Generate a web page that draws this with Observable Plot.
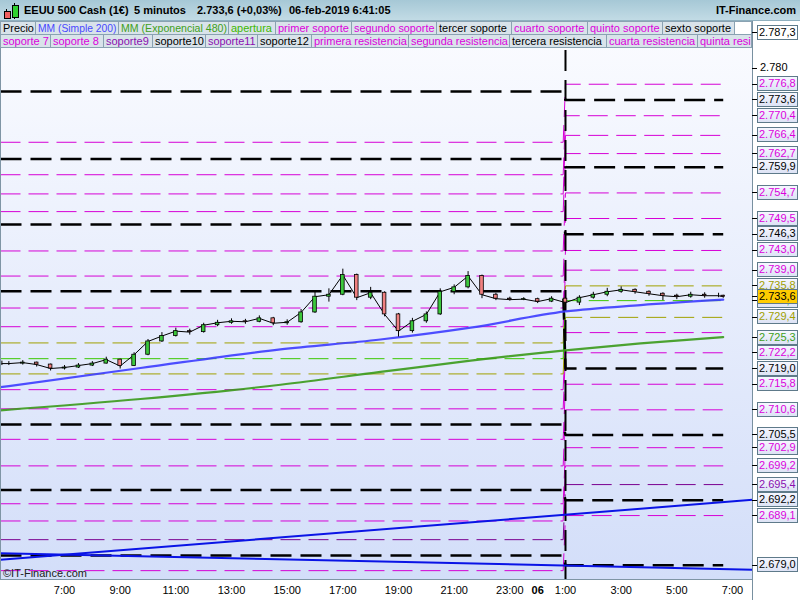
<!DOCTYPE html>
<html><head><meta charset="utf-8">
<script src="https://cdn.jsdelivr.net/npm/d3@7"></script>
<script src="https://cdn.jsdelivr.net/npm/@observablehq/plot@0.6"></script>
<style>
html,body{margin:0;padding:0;background:#fff;}
#wrap{position:relative;width:800px;height:600px;overflow:hidden;background:#fff;font-family:"Liberation Sans",Arial,sans-serif;}
#bg{position:absolute;left:0;top:20px;width:752px;height:559px;background:linear-gradient(#fbfcff,#d3def9);}
#plotholder{position:absolute;left:0;top:0;}
#titlebar{position:absolute;left:0;top:0;width:800px;height:21px;background:linear-gradient(#a6c8d6,#c2dbe5);border-bottom:1px solid #8fb0bf;box-sizing:border-box;}
.tt{position:absolute;top:4px;font-size:11px;font-weight:bold;color:#000;white-space:nowrap;line-height:13px;}
.row{position:absolute;left:0;width:752px;height:14px;display:flex;overflow:hidden;white-space:nowrap;}
.cell{flex:none;height:14px;line-height:13px;font-size:11px;padding:0 0 0 2px;border:1px solid #8aa2b2;border-left:none;box-sizing:border-box;background:#d9e3ea;overflow:hidden;}
.cell.blank{background:#fff;flex:1 1 auto;}
.cell.last{flex:1 1 auto;}
#rightcol{position:absolute;left:752px;top:21px;width:48px;height:579px;background:#fff;border-left:1px solid #7890a0;box-sizing:border-box;}
.lab{position:absolute;left:757px;width:41px;height:15px;border:1px solid #5e7a8a;box-sizing:border-box;font-size:11px;line-height:13px;padding-left:1px;background:linear-gradient(#f6f7ff,#dde3f5);white-space:nowrap;}
.tk{position:absolute;left:752px;width:5px;height:1px;background:#000;}
.plain{position:absolute;left:760px;font-size:11px;line-height:13px;color:#000;}
</style></head><body><div id="wrap"><div id="bg"></div><div id="plotholder"></div></div>
<script>
// ---------- data ----------
// time in hours since 5-feb-2019 00:00 (so 25 = 6-feb 1:00)
const priceHours = [4.75,5,5.5,6,6.5,7,7.5,8,8.5,9,9.5,10,10.5,11,11.5,12,12.5,13,13.5,14,14.5,15,15.5,16,16.5,17,17.5,18,18.5,19,19.5,20,20.5,21,21.5,22,22.5,23,23.5,24,24.5,25,25.5,26,26.5,27,27.5,28,28.5,29,29.5,30,30.5,30.667];
const priceClose = [2720.0,2720.0,2720.2,2719.8,2719.0,2719.2,2719.6,2720.0,2720.8,2719.5,2721.8,2724.5,2725.6,2726.6,2726.4,2727.8,2728.3,2728.6,2728.5,2729.2,2728.2,2728.4,2730.4,2733.6,2734.0,2738.0,2733.4,2734.4,2730.0,2726.6,2728.6,2730.0,2734.6,2735.5,2737.8,2734.0,2733.2,2733.0,2733.1,2732.6,2733.2,2732.4,2733.4,2734.0,2734.6,2735.0,2734.6,2734.2,2733.8,2733.6,2734.0,2733.8,2733.8,2733.6];
const priceHigh = [2720.5,2720.4,2720.6,2720.3,2719.9,2719.6,2720.0,2720.4,2721.3,2720.9,2722.2,2724.9,2726.3,2727.2,2727.0,2728.2,2728.8,2729.1,2729.0,2729.7,2729.4,2728.9,2731.0,2734.5,2735.2,2739.2,2738.2,2735.5,2734.6,2730.2,2729.2,2730.5,2735.2,2736.0,2738.7,2738.0,2734.3,2733.5,2733.4,2733.3,2733.6,2733.4,2733.8,2734.5,2735.3,2735.6,2735.2,2734.8,2734.4,2734.1,2734.5,2734.4,2734.3,2733.9];
const priceLow = [2719.6,2719.6,2719.7,2719.3,2718.5,2718.7,2719.0,2719.4,2719.9,2718.9,2719.4,2721.6,2724.3,2725.4,2725.8,2726.2,2727.5,2728.0,2728.0,2728.3,2727.7,2727.8,2728.2,2730.2,2732.5,2733.8,2732.8,2733.0,2729.5,2725.4,2726.2,2728.2,2729.8,2734.0,2735.2,2733.2,2732.8,2732.7,2732.8,2732.2,2732.4,2731.9,2731.8,2733.1,2733.6,2734.3,2734.1,2733.7,2732.8,2733.0,2733.3,2733.3,2733.4,2733.3];

const maHours = [4.70,9.73,14.76,18.35,21.59,25.0,27.70,30.667];
const maSimple200 = [2715.2,2719.1,2722.9,2724.9,2727.3,2730.6,2731.9,2733.0];
const maExp480 = [2710.5,2712.8,2715.7,2718.3,2720.6,2722.7,2724.1,2725.4];

const trendHours = [4.70,31.719];
const trendUp = [2680.1,2692.3];
const trendDown = [2681.45,2678.1];

// session levels: value on 5-feb session, value on 6-feb session
const sessionHours = [4.70,24.917,25.0,30.667];
const levelGroup = ["pivot","pivot","pivot","pivot","pivot","pivot","pivot",
  "minor","minor","minor","minor","minor","minor","minor","minor","minor","minor","minor","minor","minor","minor","minor",
  "deep","range","range","open"];
const levelLeft = [2775.3,2761.6,2748.3,2734.7,2707.6,2694.3,2681.0,
  2765.0,2758.4,2754.5,2750.9,2742.9,2737.8,2731.3,2727.5,2714.7,2710.8,2704.6,2699.2,2691.5,2688.0,2677.9,
  2684.2,2724.2,2717.9,2721.0];
const levelRight = [2773.6,2759.9,2746.3,2719.0,2705.5,2692.2,2679.0,
  2776.8,2770.4,2766.4,2762.7,2754.7,2749.5,2743.0,2739.0,2726.3,2722.2,2715.8,2710.6,2702.9,2699.2,2689.1,
  2695.4,2735.8,2729.4,2732.8];
const sessionBreak = [25.0];

const tickHours = [7,9,11,13,15,17,19,21,23,25,27,29,31];
const tickLabels = ["7:00","9:00","11:00","13:00","15:00","17:00","19:00","21:00","23:00","1:00","3:00","5:00","7:00"];
const dayHours = [24];
const dayLabels = ["06"];

const axisLabelValues = [2787.3,2776.8,2773.6,2770.4,2766.4,2762.7,2759.9,2754.7,2749.5,2746.3,2743.0,2739.0,2735.8,2732.8,2729.4,2725.3,2722.2,2719.0,2715.8,2710.6,2705.5,2702.9,2699.2,2695.4,2692.2,2689.1,2679.0,2733.6];
const axisLabelGroup = ["top","minor","pivot","minor","minor","minor","pivot","minor","minor","pivot","minor","minor","range","open","range","ema","minor","pivot","minor","minor","pivot","minor","minor","deep","pivot","minor","pivot","price"];
const plainTicks = [2780];

const legendRow1 = ["Precio","MM (Simple 200)","MM (Exponencial 480)","apertura","primer soporte","segundo soporte","tercer soporte","cuarto soporte","quinto soporte","sexto soporte"];
const legendRow1Group = ["price","sma","ema","open","minor","minor","pivot","minor","minor","pivot"];
const legendRow2 = ["soporte 7","soporte 8","soporte9","soporte10","soporte11","soporte12","primera resistencia","segunda resistencia","tercera resistencia","cuarta resistencia","quinta resistencia"];
const legendRow2Group = ["minor","minor","deep","pivot","deep","pivot","minor","minor","pivot","minor","minor"];

// ---------- layout & styles ----------
const row1Widths = [36,83,110,47,76,85,75,76,75,72];
const row2Widths = [51,53,49,53,52,54,97,101,97,91,0];
const col = {pivot:"#000000",minor:"#d600d6",deep:"#7a0090",range:"#a0a000",open:"#3cc800",
  sma:"#3c3cff",ema:"#3a9a1a",price:"#000000",top:"#000000",trend:"#0a14e6"};
const textCol = {pivot:"#000",minor:"#dc00dc",deep:"#8a10b0",range:"#a0a000",open:"#40b800",sma:"#4848ff",ema:"#40a020",price:"#000",top:"#000"};

// ---------- build ----------
const candles = priceHours.map((h,i)=>({h, open: i>0?priceClose[i-1]:priceClose[i], close: priceClose[i], high: priceHigh[i], low: priceLow[i]}));
const levels = [];
levelLeft.forEach((L,i)=>{
  const R = levelRight[i];
  [L,L,R,R].forEach((v,k)=>levels.push({id:i, g:levelGroup[i], h:sessionHours[k], v}));
});
const ma1 = maHours.map((h,i)=>({h,v:maSimple200[i]}));
const ma2 = maHours.map((h,i)=>({h,v:maExp480[i]}));
const tr1 = trendHours.map((h,i)=>({h,v:trendUp[i]}));
const tr2 = trendHours.map((h,i)=>({h,v:trendDown[i]}));

function levelMark(g, w, dash){
  return Plot.line(levels.filter(d=>d.g===g), {x:"h", y:"v", z:"id", stroke:col[g], strokeWidth:w, strokeDasharray:dash, strokeLinecap:"butt"});
}

const plot = Plot.plot({
  width:800, height:600,
  marginTop:20, marginBottom:21, marginLeft:0, marginRight:48,
  style:{background:"transparent", fontFamily:"Liberation Sans, Arial, sans-serif", fontSize:"11px", color:"#000", overflow:"visible"},
  x:{domain:[4.70,31.719], axis:null},
  y:{domain:[2676.1,2789.76], axis:null},
  marks:[
    levelMark("minor",1,"20,8"),
    levelMark("deep",1,"20,8"),
    levelMark("range",1,"20,8"),
    levelMark("open",1,"20,8"),
    levelMark("pivot",2.5,"21,9"),
    Plot.ruleX(sessionBreak, {x:d=>d, stroke:"#000", strokeWidth:2, strokeDasharray:"21,9"}),
    Plot.line(tr1, {x:"h", y:"v", stroke:col.trend, strokeWidth:2}),
    Plot.line(tr2, {x:"h", y:"v", stroke:col.trend, strokeWidth:2}),
    Plot.line(ma2, {x:"h", y:"v", stroke:col.ema, strokeWidth:2.2, curve:"monotone-x", strokeOpacity:0.9}),
    Plot.line(ma1, {x:"h", y:"v", stroke:col.sma, strokeWidth:2.2, curve:"monotone-x", strokeOpacity:0.9}),
    Plot.line(candles, {x:"h", y:"close", stroke:"#000", strokeWidth:1}),
    Plot.ruleX(candles, {x:"h", y1:"low", y2:"high", stroke:"#000", strokeWidth:1}),
    Plot.rect(candles, {x1:d=>d.h-0.065, x2:d=>d.h+0.065, y1:"open", y2:"close",
      fill:d=>d.close>=d.open?"#3cc83c":"#f08080", stroke:"#000", strokeWidth:0.8}),
    Plot.text(tickHours, {x:d=>d, text:(d,i)=>tickLabels[i], frameAnchor:"bottom", dy:14, fontSize:11, fill:"#000"}),
    Plot.text(dayHours, {x:d=>d, text:(d,i)=>dayLabels[i], frameAnchor:"bottom", dy:14, fontSize:11, fontWeight:"bold", fill:"#000"})
  ]
});
document.getElementById("plotholder").appendChild(plot);

const wrap = document.getElementById("wrap");
function add(html){ const t=document.createElement("div"); t.innerHTML=html; const el=t.firstElementChild; wrap.appendChild(el); return el; }

// frame lines
add('<div style="position:absolute;left:0;top:579px;width:752px;height:1px;background:#7f95a5"></div>');
add('<div style="position:absolute;left:0;top:20px;width:1px;height:560px;background:#7f95a5"></div>');
add('<div id="rightcol"></div>');
add('<div style="position:absolute;left:3px;top:567px;font-size:11px;color:#222;line-height:13px">©IT-Finance.com</div>');

// title bar
add('<div id="titlebar"></div>');
add('<div style="position:absolute;left:6px;top:9px;width:1px;height:10px;background:#000"></div>');
add('<div style="position:absolute;left:4px;top:11px;width:5px;height:6px;background:#f06060;border:1px solid #000;box-sizing:content-box"></div>');
add('<div style="position:absolute;left:14px;top:3px;width:1px;height:16px;background:#000"></div>');
add('<div style="position:absolute;left:12px;top:5px;width:5px;height:11px;background:#30d030;border:1px solid #000"></div>');
add('<div class="tt" style="left:24px">EEUU 500 Cash (1€)</div>');
add('<div class="tt" style="left:134px">5 minutos</div>');
add('<div class="tt" style="left:197px">2.733,6 (+0,03%)</div>');
add('<div class="tt" style="left:289px">06-feb-2019 6:41:05</div>');
add('<div class="tt" style="right:4px">IT-Finance.com</div>');

// legend rows
function row(names, groups, widths, top, blank){
  let h = '<div class="row" style="top:'+top+'px">';
  names.forEach((n,i)=>{
    const w = widths[i] ? 'width:'+widths[i]+'px;' : '';
    const cls = widths[i] ? 'cell fit' : 'cell last';
    h += '<div class="'+cls+'" style="'+w+'color:'+textCol[groups[i]]+(i===0?';border-left:1px solid #8aa2b2':'')+'"><span>'+n+'</span></div>';
  });
  if (blank) h += '<div class="cell blank"></div>';
  h += '</div>';
  add(h);
}
row(legendRow1, legendRow1Group, row1Widths, 21, true);
row(legendRow2, legendRow2Group, row2Widths, 34, false);
// shrink text that does not fit its cell
document.querySelectorAll(".cell.fit").forEach(c=>{
  const s = c.querySelector("span");
  let fs = 11;
  while (s.getBoundingClientRect().width > c.clientWidth - 3 && fs > 8) { fs -= 0.1; c.style.fontSize = fs+"px"; }
});

// right price axis labels
const ys = plot.scale("y");
const fmt = v => { const s = v.toFixed(1).replace(".", ","); return s[0]+"."+s.slice(1); };
plainTicks.forEach(v=>{
  const y = ys.apply(v);
  add('<div class="tk" style="top:'+Math.round(y)+'px"></div>');
  add('<div class="plain" style="top:'+Math.round(y-7)+'px">'+(v/1000).toFixed(3)+'</div>');
});
axisLabelValues.forEach((v,i)=>{
  const g = axisLabelGroup[i];
  const y = ys.apply(v);
  add('<div class="tk" style="top:'+Math.round(y)+'px"></div>');
  let bg = g==="price" ? "background:#ffcc00;" : (g==="top" ? "background:#fff;" : "");
  add('<div class="lab" style="top:'+Math.round(y-7.5)+'px;color:'+textCol[g]+';'+bg+'">'+fmt(v)+'</div>');
});
</script></body></html>
